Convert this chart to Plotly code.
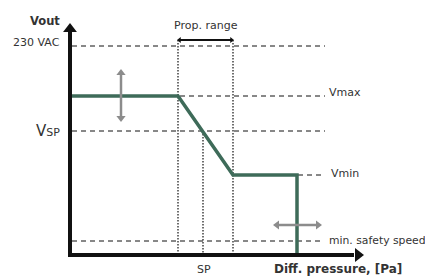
import plotly.graph_objects as go

# Schematic coordinates (diagram units, y grows downward like the drawing)
curve_x = [72, 178, 233, 297, 297]
curve_y = [96, 96, 175, 175, 255]

level_names = ["230 VAC", "Vmax", "VSP", "Vmin", "min. safety speed"]
level_y = [46, 96, 131, 175, 241]
level_x0 = [72, 72, 72, 298, 72]
level_x1 = [325, 325, 325, 325, 323]

vline_x = [178, 203, 233]
vline_top = [40, 131, 40]
axis_y = 255
axis_x0 = 70
x_axis_end = 354
y_axis_top = 32

GREEN = "#3e6b59"
GRAY = "#8c8c8c"
TXT = "#333333"
FONT = "DejaVu Sans"
PAGE_MARGIN = 8  # default body margin of the html page

fig = go.Figure()

# dashed level lines
for y, x0, x1 in zip(level_y, level_x0, level_x1):
    fig.add_trace(go.Scatter(x=[x0, x1], y=[y, y], mode="lines",
                             line=dict(color="#111", width=1, dash="5px,4px"),
                             hoverinfo="skip"))
# dotted vertical lines
for x, t in zip(vline_x, vline_top):
    fig.add_trace(go.Scatter(x=[x, x], y=[t, axis_y], mode="lines",
                             line=dict(color="#222", width=1.3, dash="1.5px,1.5px"),
                             hoverinfo="skip"))

# curve
fig.add_trace(go.Scatter(x=curve_x, y=curve_y, mode="lines",
                         line=dict(color=GREEN, width=3.5), hoverinfo="skip"))

# axes
fig.add_trace(go.Scatter(x=[axis_x0, axis_x0], y=[axis_y + 2, y_axis_top], mode="lines",
                         line=dict(color="#111", width=4), hoverinfo="skip"))
fig.add_trace(go.Scatter(x=[axis_x0 - 2, x_axis_end], y=[axis_y, axis_y], mode="lines",
                         line=dict(color="#111", width=4), hoverinfo="skip"))
fig.add_trace(go.Scatter(x=[axis_x0], y=[y_axis_top - 3], mode="markers",
                         marker=dict(symbol="triangle-up", size=12, color="#111"),
                         hoverinfo="skip"))
fig.add_trace(go.Scatter(x=[x_axis_end + 4], y=[axis_y], mode="markers",
                         marker=dict(symbol="triangle-right", size=12, color="#111"),
                         hoverinfo="skip"))

# gray adjustment arrows
varrow_x, varrow_y = 121, [74, 117]
harrow_y, harrow_x = 225, [278, 317]
fig.add_trace(go.Scatter(x=[varrow_x, varrow_x], y=varrow_y, mode="lines",
                         line=dict(color=GRAY, width=2.5), hoverinfo="skip"))
fig.add_trace(go.Scatter(x=[varrow_x, varrow_x], y=[varrow_y[0] - 1, varrow_y[1] + 1], mode="markers",
                         marker=dict(symbol=["triangle-up", "triangle-down"], size=8, color=GRAY),
                         hoverinfo="skip"))
fig.add_trace(go.Scatter(x=harrow_x, y=[harrow_y, harrow_y], mode="lines",
                         line=dict(color=GRAY, width=2.5), hoverinfo="skip"))
fig.add_trace(go.Scatter(x=[harrow_x[0] - 1, harrow_x[1] + 1], y=[harrow_y, harrow_y], mode="markers",
                         marker=dict(symbol=["triangle-left", "triangle-right"], size=8, color=GRAY),
                         hoverinfo="skip"))

# prop. range arrow
prop_y = 40
fig.add_trace(go.Scatter(x=[vline_x[0] + 2, vline_x[2] - 2], y=[prop_y, prop_y], mode="lines",
                         line=dict(color="#111", width=1.8), hoverinfo="skip"))
fig.add_trace(go.Scatter(x=[vline_x[0] + 1.5, vline_x[2] - 1.5], y=[prop_y, prop_y], mode="markers",
                         marker=dict(symbol=["triangle-left", "triangle-right"], size=5, color="#111"),
                         hoverinfo="skip"))

ann = []
def txt(x, y, s, size=10, anchor="left", bold=False):
    ann.append(dict(x=x, y=y, text=f"<b>{s}</b>" if bold else s, showarrow=False,
                    xanchor=anchor, yanchor="middle",
                    font=dict(family=FONT, size=size, color=TXT)))

txt(62, 21, "Vout", 11.5, "right", True)
txt(62, 42, "230 VAC", 11, "right")
txt(62, 131, "V<span style='font-size:11px'>SP</span>", 15, "right")
txt(327, 92, "Vmax", 11)
txt(329, 173, "Vmin", 11)
txt(327, 240, "min. safety speed", 10.8)
txt(206, 25, "Prop. range", 11, "center")
txt(204, 269, "SP", 11, "center")
txt(338, 269, "Diff. pressure, [Pa]", 12, "center", True)

fig.update_layout(
    width=433 - PAGE_MARGIN, height=278 - PAGE_MARGIN, margin=dict(l=0, r=0, t=0, b=0),
    paper_bgcolor="white", plot_bgcolor="white", showlegend=False,
    xaxis=dict(range=[PAGE_MARGIN, 433], visible=False, fixedrange=True),
    yaxis=dict(range=[278, PAGE_MARGIN], visible=False, fixedrange=True),
    annotations=ann,
)
fig.write_html("out.html")
